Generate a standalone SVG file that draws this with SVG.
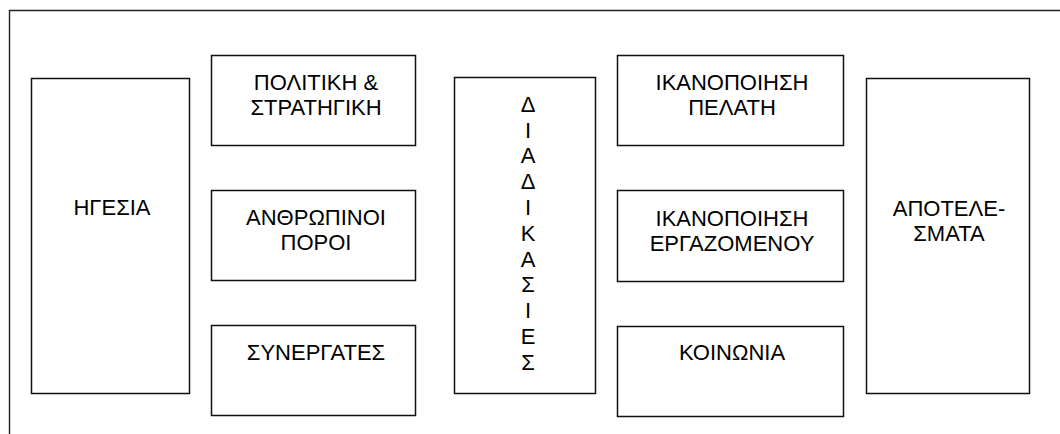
<svg xmlns="http://www.w3.org/2000/svg" width="1060" height="434" viewBox="0 0 1060 434">
  <style>
    .box { fill: #ffffff; stroke: #111111; stroke-width: 1.5; }
    .frame { fill: none; stroke: #222222; stroke-width: 1.4; }
    .lbl { font-family: "Liberation Sans", Arial, sans-serif; font-size: 22px; fill: #000000; text-anchor: middle; }
  </style>
  <rect x="0" y="0" width="1060" height="434" fill="#ffffff"/>

  <!-- outer frame, open at the bottom and right -->
  <path class="frame" d="M9.5,434 V10.5 H1060"/>

  <g id="hgesia">
    <rect class="box" x="31.5" y="78.5" width="158" height="315"/>
    <text class="lbl" x="112" y="215">ΗΓΕΣΙΑ</text>
  </g>

  <g id="politiki">
    <rect class="box" x="211.5" y="55.5" width="204" height="90"/>
    <text class="lbl" x="316" y="90">ΠΟΛΙΤΙΚΗ &amp;</text>
    <text class="lbl" x="316" y="115">ΣΤΡΑΤΗΓΙΚΗ</text>
  </g>

  <g id="anthropinoi">
    <rect class="box" x="211.5" y="190.5" width="204" height="90"/>
    <text class="lbl" x="316" y="225">ΑΝΘΡΩΠΙΝΟΙ</text>
    <text class="lbl" x="316" y="250">ΠΟΡΟΙ</text>
  </g>

  <g id="synergates">
    <rect class="box" x="211.5" y="325.5" width="204" height="90"/>
    <text class="lbl" x="316" y="360">ΣΥΝΕΡΓΑΤΕΣ</text>
  </g>

  <g id="diadikasies">
    <rect class="box" x="454.5" y="77.5" width="141" height="316"/>
    <text class="lbl" x="528" y="112">Δ</text>
    <text class="lbl" x="528" y="138">Ι</text>
    <text class="lbl" x="528" y="163">Α</text>
    <text class="lbl" x="528" y="189">Δ</text>
    <text class="lbl" x="528" y="215">Ι</text>
    <text class="lbl" x="528" y="241">Κ</text>
    <text class="lbl" x="528" y="267">Α</text>
    <text class="lbl" x="528" y="292">Σ</text>
    <text class="lbl" x="528" y="318">Ι</text>
    <text class="lbl" x="528" y="344">Ε</text>
    <text class="lbl" x="528" y="370">Σ</text>
  </g>

  <g id="ikanopoiisi-pelati">
    <rect class="box" x="617.5" y="55.5" width="226" height="90"/>
    <text class="lbl" x="732" y="90">ΙΚΑΝΟΠΟΙΗΣΗ</text>
    <text class="lbl" x="732" y="115">ΠΕΛΑΤΗ</text>
  </g>

  <g id="ikanopoiisi-ergazomenou">
    <rect class="box" x="617.5" y="190.5" width="226" height="91"/>
    <text class="lbl" x="732" y="226">ΙΚΑΝΟΠΟΙΗΣΗ</text>
    <text class="lbl" x="732" y="251">ΕΡΓΑΖΟΜΕΝΟΥ</text>
  </g>

  <g id="koinonia">
    <rect class="box" x="617.5" y="326.5" width="226" height="90"/>
    <text class="lbl" x="732" y="360">ΚΟΙΝΩΝΙΑ</text>
  </g>

  <g id="apotelesmata">
    <rect class="box" x="866.5" y="78.5" width="163" height="315"/>
    <text class="lbl" x="949" y="216">ΑΠΟΤΕΛΕ-</text>
    <text class="lbl" x="949" y="241">ΣΜΑΤΑ</text>
  </g>
</svg>
